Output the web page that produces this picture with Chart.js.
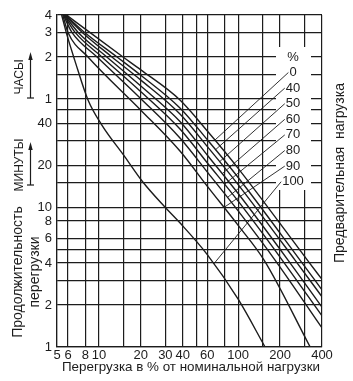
<!DOCTYPE html>
<html><head><meta charset="utf-8">
<script src="https://cdn.jsdelivr.net/npm/chart.js@4/dist/chart.umd.min.js"></script>
<style>html,body{margin:0;padding:0;background:#fff;}canvas{display:block;}</style>
</head><body>
<canvas id="c" width="353" height="381"></canvas>
<script>
// ---- tick values and labels ----
const xTickValues = [5,6,8,10,15,20,30,40,50,60,80,100,150,200,300,400];
const xTickText   = ['5','6','8','10','','20','30','40','','60','','100','','200','','400'];
const yTickValues = [1,2,3,4,5,6,8,10,15,20,30,40,50,60,90,120,180,240];
const yTickText   = ['1','2','','4','','6','8','10','','20','','40','','1','','2','3','4'];

// ---- preload series (label) ----
const preloadLabels = ['0','40','50','60','70','80','90','100'];

// ---- curves: [overload %, duration in minutes] ----
const curve0   = [[5.85,240],[8.6,180],[14.9,120],[20,97],[38.2,59],[60.7,34.9],[100,19.1],[314,4.2],[400,3.05]];
const curve40  = [[5.75,240],[7.9,180],[13.5,120],[20,88.7],[38.2,51.7],[60.7,30.2],[100,16.4],[278,4.2],[400,2.57]];
const curve50  = [[5.7,240],[7.6,180],[12.4,120],[20,81.9],[38.2,46.8],[60.7,27],[100,14.6],[256,4.2],[400,2.29]];
const curve60  = [[5.65,240],[7.1,180],[11.4,120],[20,74.3],[38.2,41.4],[60.7,23.4],[100,12.6],[228,4.2],[400,1.93]];
const curve70  = [[5.6,240],[6.75,180],[10.5,120],[20,67.6],[38.2,36.5],[60.7,20.6],[100,11.1],[207,4.2],[400,1.67]];
const curve80  = [[5.55,240],[6.4,180],[9.7,120],[20,60.3],[38.2,31.5],[60.7,17.7],[100,9.45],[184,4.2],[400,1.37]];
const curve90  = [[5.5,240],[6.0,180],[8.35,120],[20,49.9],[38.2,25.4],[60.7,14],[100,7.45],[153.5,4.2],[329,1]];
const curve100 = [[5.4,240],[5.9,172],[6.7,114],[8.35,59],[10.5,39],[15.4,23],[20.4,15.5],[30,10],[38,7.8],[60,4.6],[100,2.2],[156,1]];
const curves = [curve0,curve40,curve50,curve60,curve70,curve80,curve90,curve100];

// leader line steepness for each label (screen slope, going down-left)
const leaderSlopes = [0.92,0.89,0.89,0.87,0.82,0.82,0.68,1.22];

const FONT = "'Liberation Sans Narrow','Arial Narrow','Liberation Sans',Arial,sans-serif";
const INK = '#1c1c1c';

const datasets = curves.map((c,i)=>({
  label: preloadLabels[i],
  data: c.map(p=>({x:p[0],y:p[1]})),
  borderColor: INK, borderWidth: 1.4, pointRadius: 0,
  cubicInterpolationMode: 'monotone', fill:false
}));

function hitCurve(pts, sx, sy, k){
  for(let i=0;i<pts.length-1;i++){
    const a=pts[i], b=pts[i+1];
    const fa = a.y - (sy + k*(sx - a.x));
    const fb = b.y - (sy + k*(sx - b.x));
    if(a.x < sx && (fa<=0) !== (fb<=0)){
      const t = fa/(fa-fb);
      return {x:a.x+t*(b.x-a.x), y:a.y+t*(b.y-a.y)};
    }
  }
  return null;
}

const annot = {
  id:'annot',
  beforeDatasetsDraw(chart){
    const ctx = chart.ctx;
    ctx.save();
    ctx.fillStyle = '#fff';
    ctx.fillRect(276,47,35,143);
    ctx.restore();
  },
  afterDatasetsDraw(chart){
    const ctx = chart.ctx;
    ctx.save();
    ctx.fillStyle = INK; ctx.strokeStyle = INK;
    ctx.font = '13px ' + FONT;
    ctx.textAlign = 'center'; ctx.textBaseline = 'middle';
    ctx.fillText('%', 293, 57);
    const labelY0 = 72.5, step = 15.6;
    preloadLabels.forEach((lab,i)=>{
      const ly = labelY0 + i*step;
      ctx.fillText(lab, 293, ly);
      const w = ctx.measureText(lab).width;
      const sx = 293 - w/2 - 1;
      const pts = chart.getDatasetMeta(i).data.map(e=>({x:e.x,y:e.y}));
      const hit = hitCurve(pts, sx, ly, leaderSlopes[i]);
      if(hit){
        ctx.lineWidth = 0.9;
        ctx.beginPath(); ctx.moveTo(sx, ly); ctx.lineTo(hit.x, hit.y); ctx.stroke();
      }
    });
    ctx.restore();
  },
  afterDraw(chart){
    const ctx = chart.ctx;
    ctx.save();
    ctx.fillStyle = INK; ctx.strokeStyle = INK;
    ctx.font = '13.4px ' + FONT;
    ctx.textAlign = 'center'; ctx.textBaseline = 'middle';
    ctx.fillText('Перегрузка в % от номинальной нагрузки', 191, 367);
    ctx.font = '14px ' + FONT;
    ctx.save(); ctx.translate(340, 173); ctx.rotate(-Math.PI/2);
    ctx.fillText('Предварительная  нагрузка', 0, 0); ctx.restore();
    ctx.save(); ctx.translate(18, 272); ctx.rotate(-Math.PI/2);
    ctx.fillText('Продолжительность', 0, 0); ctx.restore();
    ctx.save(); ctx.translate(35, 272); ctx.rotate(-Math.PI/2);
    ctx.fillText('перегрузки', 0, 0); ctx.restore();
    ctx.font = '12px ' + FONT;
    ctx.save(); ctx.translate(20, 77); ctx.rotate(-Math.PI/2);
    ctx.fillText('ЧАСЫ', 0, 0); ctx.restore();
    ctx.save(); ctx.translate(20, 165); ctx.rotate(-Math.PI/2);
    ctx.fillText('МИНУТЫ', 0, 0); ctx.restore();
    function arrow(x, top, bottom){
      ctx.lineWidth = 1.2;
      ctx.beginPath(); ctx.moveTo(x, bottom); ctx.lineTo(x, top+6); ctx.stroke();
      ctx.beginPath(); ctx.moveTo(x, top); ctx.lineTo(x-2.2, top+8); ctx.lineTo(x+2.2, top+8); ctx.closePath(); ctx.fill();
      ctx.beginPath(); ctx.moveTo(x-3.5, bottom); ctx.lineTo(x+3.5, bottom); ctx.stroke();
    }
    arrow(30.5, 52, 98);
    arrow(30.5, 142, 185);
    ctx.restore();
  }
};

new Chart(document.getElementById('c'), {
  type: 'line',
  data: { datasets },
  options: {
    responsive: false, animation: false, devicePixelRatio: 1,
    layout: { padding: { left: 0, right: 31, top: 15, bottom: 0 } },
    plugins: { legend: { display: false }, tooltip: { enabled: false } },
    scales: {
      x: {
        type: 'logarithmic', min: 5, max: 400,
        afterBuildTicks: s => { s.ticks = xTickValues.map(v=>({value:v})); },
        afterFit: s => { s.height = 34; },
        ticks: { autoSkip: false, maxRotation: 0, minRotation: 0, padding: 1, color: INK,
          font: { family: FONT, size: 13 },
          callback: (v) => { const i = xTickValues.indexOf(v); return i>=0 ? xTickText[i] : ''; } },
        grid: { color: INK, lineWidth: 1.2, drawTicks: false },
        border: { color: INK, width: 1.2 }
      },
      y: {
        type: 'logarithmic', min: 1, max: 240,
        afterBuildTicks: s => { s.ticks = yTickValues.map(v=>({value:v})); },
        afterFit: s => { s.width = 57; },
        ticks: { autoSkip: false, padding: 5, color: INK,
          font: { family: FONT, size: 13 },
          callback: (v) => { const i = yTickValues.indexOf(v); return i>=0 ? yTickText[i] : ''; } },
        grid: { color: INK, lineWidth: 1.2, drawTicks: false },
        border: { color: INK, width: 1.2 }
      }
    }
  },
  plugins: [annot]
});
</script>
</body></html>
